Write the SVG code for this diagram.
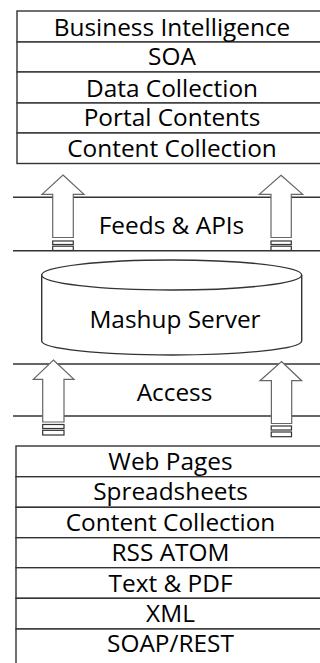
<svg xmlns="http://www.w3.org/2000/svg" width="320" height="663" viewBox="0 0 320 663">
<style>
.cell{fill:#fff;stroke:#333;stroke-width:1.4}
.band{stroke:#333;stroke-width:1.4;fill:none}
.lbl{font-family:"Open Sans","Liberation Sans",sans-serif;font-size:24.4px;fill:#000;text-anchor:middle}
.arr{fill:#fff;stroke:#666;stroke-width:1.2;stroke-linejoin:miter}
.stripe{fill:#fff;stroke:#333;stroke-width:1.2}
</style>
<rect width="320" height="663" fill="#fff"/>

<g id="top-stack">
  <rect class="cell" x="17" y="11" width="310" height="31"/>
  <rect class="cell" x="17" y="42" width="310" height="30"/>
  <rect class="cell" x="17" y="72" width="310" height="31"/>
  <rect class="cell" x="17" y="103" width="310" height="30"/>
  <rect class="cell" x="17" y="133" width="310" height="30.5"/>
  <text class="lbl" x="172" y="35.5">Business Intelligence</text>
  <text class="lbl" x="172" y="65">SOA</text>
  <text class="lbl" x="172" y="96.5">Data Collection</text>
  <text class="lbl" x="172" y="126">Portal Contents</text>
  <text class="lbl" x="172" y="156.5">Content Collection</text>
</g>

<g id="feeds-band">
  <line class="band" x1="13" y1="197.3" x2="320" y2="197.3"/>
  <line class="band" x1="13" y1="250.7" x2="320" y2="250.7"/>
  <text class="lbl" x="171.5" y="234">Feeds &amp; APIs</text>
</g>

<g id="mashup-server">
  <path class="cell" d="M41.7,275 V341 A130,14 0 0 0 301.7,341 V275"/>
  <ellipse class="cell" cx="171.7" cy="275" rx="130" ry="15"/>
  <text class="lbl" x="175" y="327.5">Mashup Server</text>
</g>

<g id="access-band">
  <line class="band" x1="13" y1="364" x2="320" y2="364"/>
  <line class="band" x1="13" y1="416" x2="320" y2="416"/>
  <text class="lbl" x="174.5" y="400.5">Access</text>
</g>

<g id="bottom-stack">
  <rect class="cell" x="16" y="446" width="310" height="30.7"/>
  <rect class="cell" x="16" y="476.7" width="310" height="30.6"/>
  <rect class="cell" x="16" y="507.3" width="310" height="30.4"/>
  <rect class="cell" x="16" y="537.7" width="310" height="30"/>
  <rect class="cell" x="16" y="567.7" width="310" height="30.6"/>
  <rect class="cell" x="16" y="598.3" width="310" height="30.7"/>
  <rect class="cell" x="16" y="629" width="310" height="40"/>
  <text class="lbl" x="170.5" y="470">Web Pages</text>
  <text class="lbl" x="170.5" y="500">Spreadsheets</text>
  <text class="lbl" x="170.5" y="530.5">Content Collection</text>
  <text class="lbl" x="170.5" y="560.5">RSS ATOM</text>
  <text class="lbl" x="170.5" y="591.5">Text &amp; PDF</text>
  <text class="lbl" x="170.5" y="621.5">XML</text>
  <text class="lbl" x="170.5" y="651.5">SOAP/REST</text>
</g>

<g id="connectors">
  <g id="arrow-top-left">
    <path class="arr" d="M63,175 L84,194.3 H73.3 V237.5 H52.7 V194.3 H42 Z"/>
    <rect class="stripe" x="52.7" y="241" width="20.6" height="3.5"/>
    <rect class="stripe" x="52.7" y="246.2" width="20.6" height="4.3"/>
  </g>
  <g id="arrow-top-right">
    <path class="arr" d="M281,175.3 L302.7,194.3 H291.3 V237.5 H271 V194.3 H259.3 Z"/>
    <rect class="stripe" x="271" y="241" width="20.3" height="3.5"/>
    <rect class="stripe" x="271" y="246.2" width="20.3" height="4.3"/>
  </g>
  <g id="arrow-bottom-left">
    <path class="arr" d="M53.4,360 L74,379.3 H64 V422 H42.7 V379.3 H33.3 Z"/>
    <rect class="stripe" x="42.7" y="424.5" width="21.3" height="4"/>
    <rect class="stripe" x="42.7" y="430.3" width="21.3" height="4.7"/>
  </g>
  <g id="arrow-bottom-right">
    <path class="arr" d="M281.5,361.5 L301.7,380.7 H291.7 V423.5 H271.4 V380.7 H260 Z"/>
    <rect class="stripe" x="271.2" y="426" width="20.3" height="4"/>
    <rect class="stripe" x="271.2" y="432" width="20.3" height="4.7"/>
  </g>
</g>
</svg>
